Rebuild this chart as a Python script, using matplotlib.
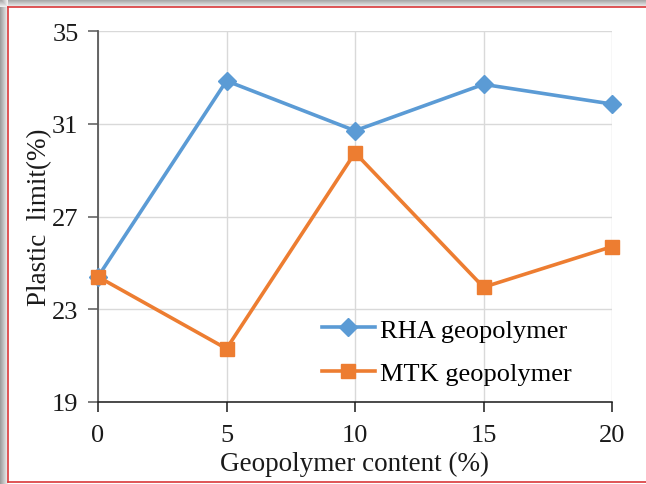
import matplotlib
matplotlib.use("Agg")
import matplotlib.pyplot as plt
from matplotlib.patches import Rectangle
from matplotlib.lines import Line2D

content = [0, 5, 10, 15, 20]
rha_limit = [24.4, 32.85, 30.7, 32.7, 31.85]
mtk_limit = [24.4, 21.3, 29.75, 23.95, 25.7]
x_ticks = [0, 5, 10, 15, 20]
y_ticks = [19, 23, 27, 31, 35]

W, H = 646, 485
plt.rcParams['font.family'] = ['Liberation Serif', 'DejaVu Serif']

fig = plt.figure(figsize=(W / 100, H / 100), dpi=100)

# soft grey shadow along top and left edges
for i in range(8):
    shade = 0.62 + 0.045 * i
    fig.patches.append(Rectangle((0, 1 - (i + 1) / H), 1, 1 / H, transform=fig.transFigure,
                                 facecolor=(shade, shade, shade), edgecolor='none', zorder=0))
    fig.patches.append(Rectangle((i / W, 0), 1 / W, 1, transform=fig.transFigure,
                                 facecolor=(shade, shade, shade), edgecolor='none', zorder=0))
# red frame
fig.add_artist(Line2D([8 / W, 8 / W], [1 - 7.5 / H, 1 - 482.5 / H], color='#d9383a', lw=1.2,
                      transform=fig.transFigure))
fig.add_artist(Line2D([8 / W, 1], [1 - 7.5 / H, 1 - 7.5 / H], color='#d9383a', lw=1.2,
                      transform=fig.transFigure))
fig.add_artist(Line2D([8 / W, 1], [1 - 482.5 / H, 1 - 482.5 / H], color='#d9383a', lw=1.2,
                      transform=fig.transFigure))

ax = fig.add_axes([98 / W, 1 - 403 / H, (612 - 98) / W, (403 - 32) / H])

ax.plot(content, rha_limit, color='#5B9BD5', lw=2.6, marker='D', markersize=9,
        label='RHA geopolymer', zorder=3, clip_on=False)
ax.plot(content, mtk_limit, color='#ED7D31', lw=2.6, marker='s', markersize=10,
        label='MTK geopolymer', zorder=3, clip_on=False)

ax.set_xlim(0, 20)
ax.set_ylim(19, 35)
ax.set_xticks(x_ticks)
ax.set_yticks(y_ticks)
ax.grid(True, color='#d9d9d9', lw=1.0)
ax.set_axisbelow(True)

for s in ['top', 'right']:
    ax.spines[s].set_visible(False)
ax.spines['left'].set_color('#595959')
ax.spines['left'].set_linewidth(1.3)
ax.spines['bottom'].set_color('#1a1a1a')
ax.spines['bottom'].set_linewidth(1.1)

ax.tick_params(axis='y', direction='out', length=7, width=1.1, color='#595959',
               labelsize=19, pad=7, labelcolor='#1a1a1a')
ax.tick_params(axis='x', direction='out', length=7, width=1.1, color='#1a1a1a',
               labelsize=19, pad=9, labelcolor='#1a1a1a')

ax.set_xlabel('Geopolymer content (%)', fontsize=19.5, labelpad=3, color='#1a1a1a')
ax.set_ylabel('Plastic  limit(%)', fontsize=19.5, labelpad=0, color='#1a1a1a')

ax.legend(loc='center left', bbox_to_anchor=(0.436, 0.136), frameon=False, fontsize=19,
          handlelength=2.0, handletextpad=0.2, labelspacing=0.75,
          borderpad=0, borderaxespad=0)

fig.savefig('out.png', dpi=100)
